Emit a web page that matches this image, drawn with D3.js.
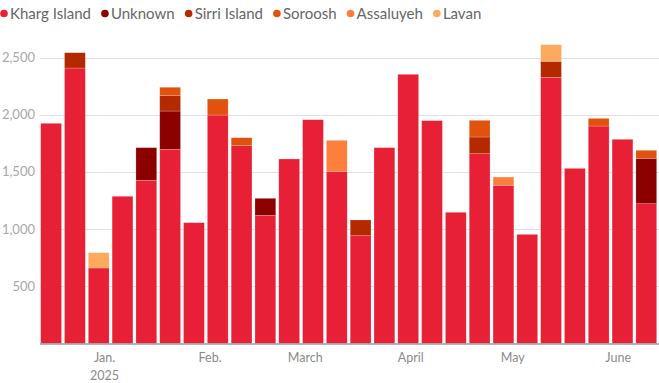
<!DOCTYPE html>
<html><head><meta charset="utf-8">
<script src="https://cdn.jsdelivr.net/npm/d3@7"></script>
<style>
html,body{margin:0;padding:0;background:#fff;}
svg{display:block;font-family:Lato, "Open Sans", sans-serif;}
</style></head>
<body><svg id="chart" width="659" height="383"></svg>
<script>
// Week starting dates (weekly bars)
const weeks = ["2024-12-13","2024-12-20","2024-12-27","2025-01-03","2025-01-10","2025-01-17","2025-01-24","2025-01-31","2025-02-07","2025-02-14","2025-02-21","2025-02-28","2025-03-07","2025-03-14","2025-03-21","2025-03-28","2025-04-04","2025-04-11","2025-04-18","2025-04-25","2025-05-02","2025-05-09","2025-05-16","2025-05-23","2025-05-30","2025-06-06"];
const seriesNames = ["Kharg Island","Unknown","Sirri Island","Soroosh","Assaluyeh","Lavan"];
const seriesColors = ["#e82036","#8c0000","#b52900","#e2520f","#fe7f3b","#fda95e"];
const khargIsland = [1925,2408,660,1287,1427,1698,1056,1997,1729,1120,1613,1956,1505,942,1712,2353,1948,1147,1659,1383,954,2327,1531,1901,1785,1222];
const unknown     = [0,0,0,0,285,334,0,0,0,149,0,0,0,0,0,0,0,0,0,0,0,0,0,0,0,397];
const sirriIsland = [0,134,0,0,0,134,0,0,0,0,0,0,0,138,0,0,0,0,146,0,0,140,0,0,0,0];
const soroosh     = [0,0,0,0,0,74,0,140,70,0,0,0,0,0,0,0,0,0,146,0,0,0,0,67,0,70];
const assaluyeh   = [0,0,0,0,0,0,0,0,0,0,0,0,271,0,0,0,0,0,0,72,0,0,0,0,0,0];
const lavan       = [0,0,134,0,0,0,0,0,0,0,0,0,0,0,0,0,0,0,0,0,0,145,0,0,0,0];
const yTicks = [500,1000,1500,2000,2500];
const monthTicks = ["2025-01-01","2025-02-01","2025-03-01","2025-04-01","2025-05-01","2025-06-01"];
const monthLabels = ["Jan.","Feb.","March","April","May","June"];

(function(){
const parse = d3.utcParse("%Y-%m-%d");
const seriesArrays = [khargIsland,unknown,sirriIsland,soroosh,assaluyeh,lavan];
const table = weeks.map((w,i)=>{
  const row = {date: parse(w)};
  seriesNames.forEach((s,j)=>row[s]=seriesArrays[j][i]);
  return row;
});

const svg = d3.select("#chart");
const mLeft = 40, mRight = 659, mBottom = 343.5;
const startDate = parse(weeks[0]);
const endDate = d3.utcDay.offset(parse(weeks[weeks.length-1]), 7);
const x = d3.scaleUtc().domain([startDate, endDate]).range([mLeft, mRight]);
const y = d3.scaleLinear().domain([0, 2500]).range([mBottom, 57.5]);

svg.append("g").selectAll("line").data(yTicks).join("line")
  .attr("x1", mLeft).attr("x2", mRight)
  .attr("y1", d=>Math.round(y(d))+0.5).attr("y2", d=>Math.round(y(d))+0.5)
  .attr("stroke", "#e0e0e0").attr("stroke-width", 1);

svg.append("g").selectAll("text").data(yTicks).join("text")
  .attr("x", 35).attr("y", d=>y(d)).attr("dy","0.35em")
  .attr("text-anchor","end").attr("fill","#a8a8a8").attr("font-size", 13)
  .text(d=>d3.format(",")(d));

const stack = d3.stack().keys(seriesNames)(table);
const color = d3.scaleOrdinal().domain(seriesNames).range(seriesColors);
svg.append("g").selectAll("g").data(stack).join("g")
  .attr("fill", d=>color(d.key))
  .selectAll("rect").data(d=>d.filter(p=>p[1]-p[0]>0)).join("rect")
  .attr("x", d=>x(d.data.date)+0.7)
  .attr("width", d=>x(d3.utcDay.offset(d.data.date,7)) - x(d.data.date) - 3)
  .attr("y", d=>y(d[1]))
  .attr("height", d=>y(d[0]) - y(d[1]))
  .attr("stroke", "#fff").attr("stroke-opacity", 0.35).attr("stroke-width", 0.6);

svg.append("line").attr("x1", mLeft).attr("x2", mRight)
  .attr("y1", mBottom+0.5).attr("y2", mBottom+0.5)
  .attr("stroke", "#9a9a9a").attr("stroke-width", 1.5);

svg.append("g").selectAll("text").data(monthTicks).join("text")
  .attr("x", d=>x(parse(d))).attr("y", 362)
  .attr("text-anchor","middle").attr("fill","#8a8a8a").attr("font-size", 12.5)
  .text((d,i)=>monthLabels[i]);
svg.append("text").attr("x", x(parse(monthTicks[0]))).attr("y", 380)
  .attr("text-anchor","middle").attr("fill","#8a8a8a").attr("font-size", 12.5)
  .text("2025");

const legend = svg.append("g");
let lx = 3;
seriesNames.forEach((s,i)=>{
  const g = legend.append("g");
  g.append("circle").attr("cx", lx+1).attr("cy", 13.5).attr("r", 3.8).attr("fill", seriesColors[i]);
  const t = g.append("text").attr("x", lx+7).attr("y", 13.5).attr("dy","0.35em")
    .attr("fill","#666").attr("font-size", 15).text(s);
  lx += t.node().getComputedTextLength() + 20;
});
})();
</script></body></html>
